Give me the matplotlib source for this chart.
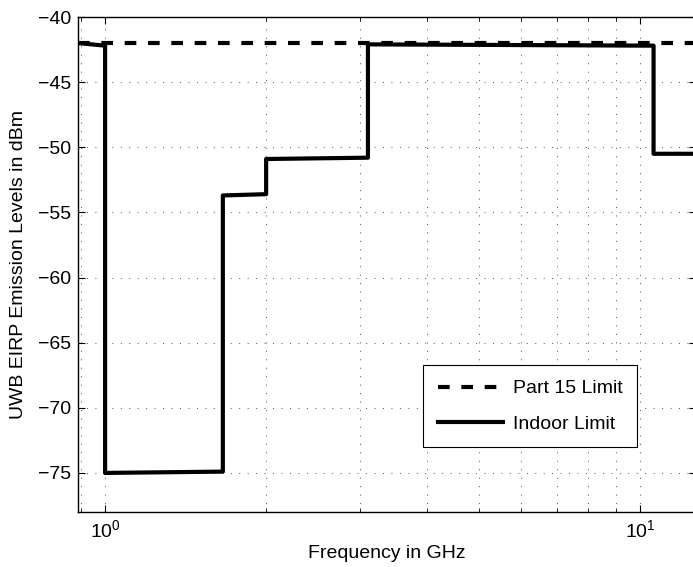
import numpy as np
import matplotlib.pyplot as plt

plt.rcParams['font.family'] = ['Liberation Sans', 'DejaVu Sans']
plt.rcParams['mathtext.fontset'] = 'custom'
plt.rcParams['mathtext.rm'] = 'Liberation Sans'
plt.rcParams['mathtext.it'] = 'Liberation Sans'
plt.rcParams['axes.unicode_minus'] = True

# emission masks, frequency in GHz, level in dBm
part15_f = [0.89, 13.0]
part15_db = [-42.0, -42.0]

indoor_f = [0.89, 1.0, 1.0, 1.66, 1.66, 2.0, 2.0, 3.1, 3.1, 10.6, 10.6, 13.0]
indoor_db = [-42.0, -42.2, -75.0, -74.9, -53.7, -53.6, -50.9, -50.8, -42.1, -42.2, -50.5, -50.5]

fs = 14

fig = plt.figure(figsize=(6.93, 5.67), dpi=100)
ax = fig.add_axes([0.1126, 0.097, 0.8924, 0.873])

ax.semilogx(part15_f, part15_db, 'k--', lw=3.0, dashes=(2.8, 2.8),
            dash_capstyle='butt', label='Part 15 Limit')
ax.semilogx(indoor_f, indoor_db, 'k-', lw=3.0, label='Indoor Limit')

ax.set_xlim(0.89, 12.75)
ax.set_ylim(-78, -40)
ax.set_yticks(np.arange(-75, -39, 5))

dots = dict(color='0.3', lw=0.7, linestyle=(0, (1, 7.7)))
ax.grid(True, which='both', axis='x', **dots)
ax.grid(True, which='major', axis='y', **dots)
ax.tick_params(which='both', direction='in', top=True, right=True, labelsize=fs)
ax.tick_params(which='major', length=5, pad=5)
ax.tick_params(which='minor', length=3)
for s in ax.spines.values():
    s.set_linewidth(1.0)

ax.set_xlabel('Frequency in GHz', fontsize=fs, labelpad=3)
ax.set_ylabel('UWB EIRP Emission Levels in dBm', fontsize=fs, labelpad=8)

leg = ax.legend(loc='lower left', bbox_to_anchor=(0.558, 0.131), fontsize=fs,
                fancybox=False, edgecolor='k', framealpha=1, handlelength=3.35,
                borderpad=0.75, borderaxespad=0, labelspacing=0.9, handletextpad=0.5)
leg.get_frame().set_linewidth(0.8)

fig.savefig('out.png', dpi=100)
